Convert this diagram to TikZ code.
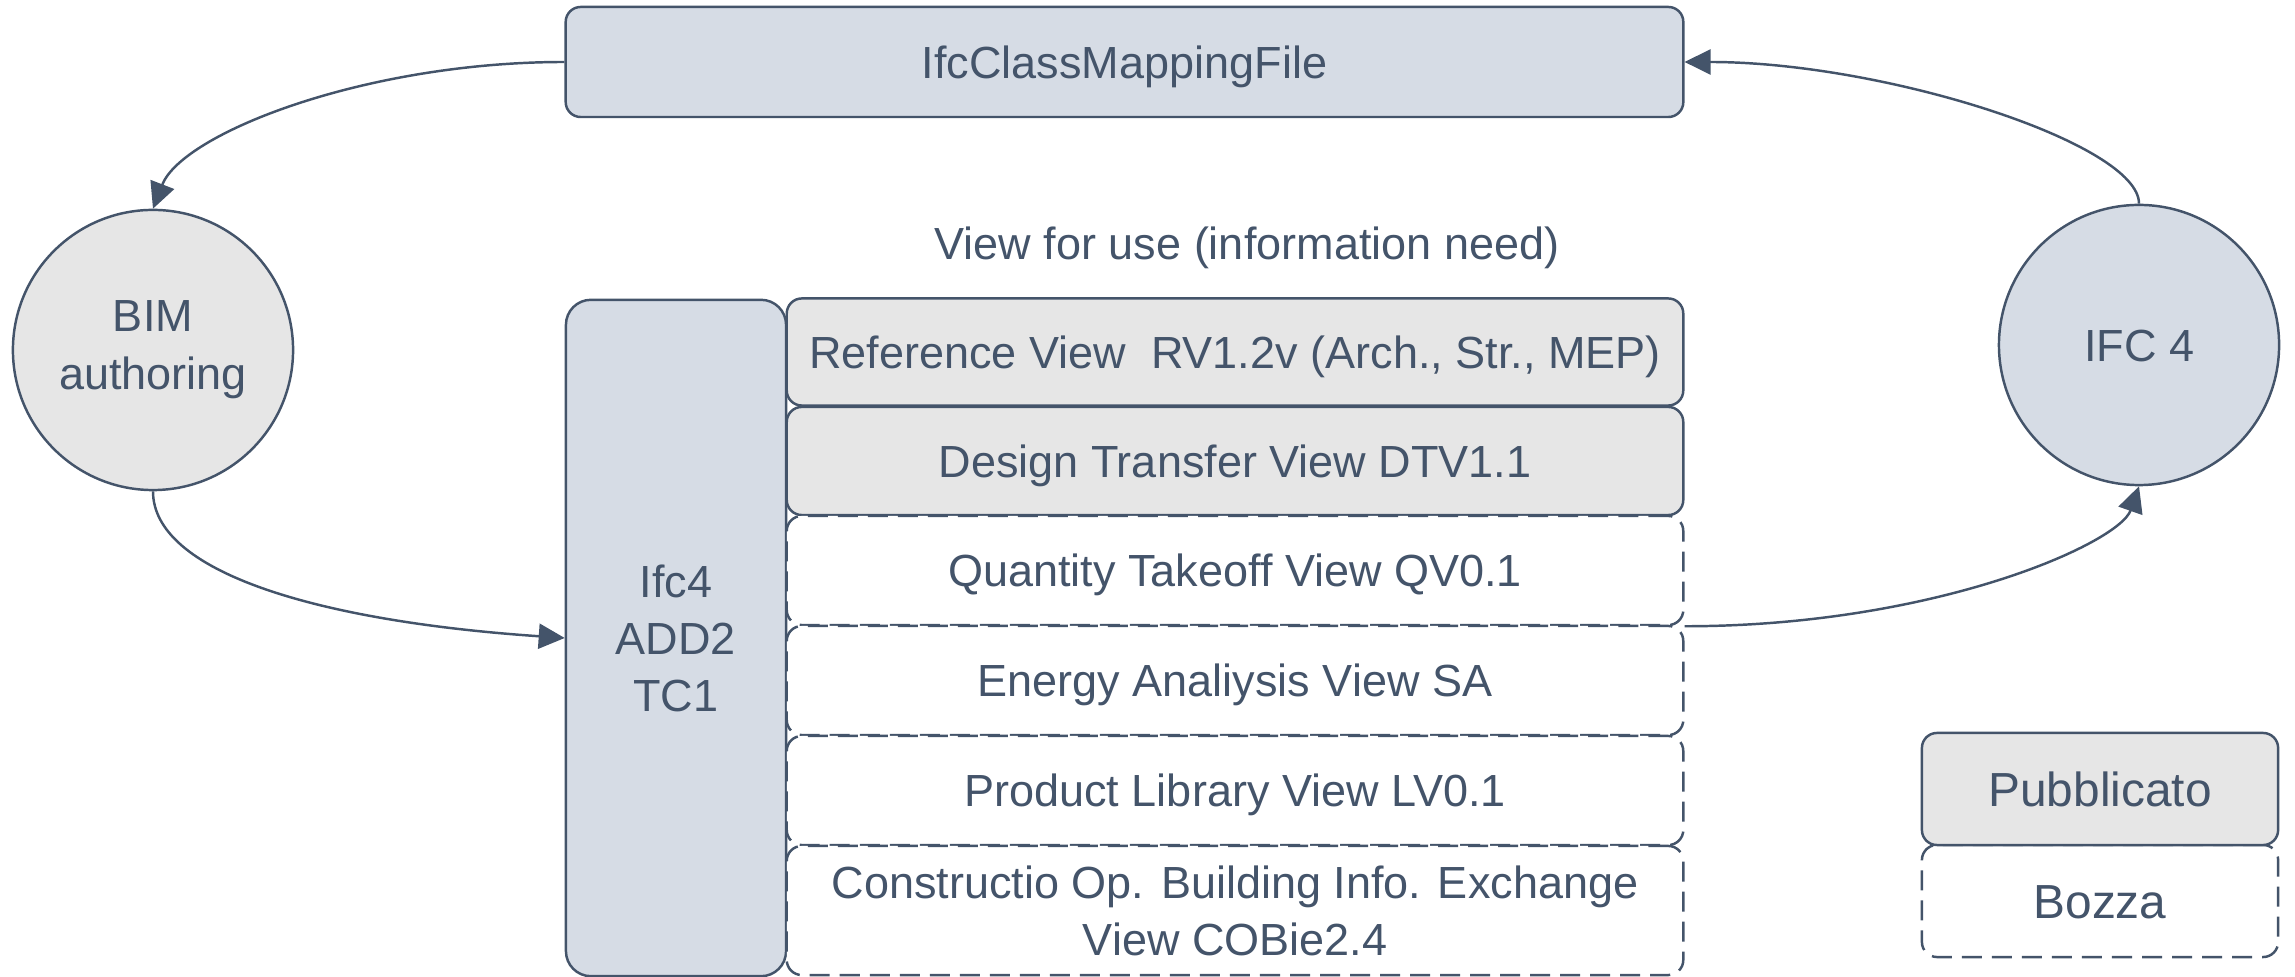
\documentclass[tikz,border=0pt]{standalone}
\usepackage{fontspec}
\setmainfont{Liberation Sans}
\usetikzlibrary{arrows.meta}
\definecolor{ink}{HTML}{44546A}
\definecolor{blu}{HTML}{D6DCE5}
\definecolor{gry}{HTML}{E6E6E6}
\begin{document}
\begin{tikzpicture}[x=0.01cm,y=-0.01cm,
  every node/.style={text=ink,font=\fontsize{12.8pt}{16.2pt}\selectfont,align=center,inner sep=0pt},
  oneline/.style={text height=9.2pt,text depth=0pt},
  legendtext/.style={font=\fontsize{13.6pt}{16pt}\selectfont,text height=9.7pt,text depth=0pt},
  box/.style={draw=ink,line width=0.7pt,rounded corners=0.15cm},
  solidrow/.style={box,fill=gry,minimum width=8.96cm},
  draftrow/.style={box,fill=white,dash pattern=on 0.2cm off 0.1cm,minimum width=8.96cm},
  circ/.style={draw=ink,line width=0.7pt,circle,minimum size=2.8cm},
  arr/.style={draw=ink,line width=0.7pt,-{Triangle[length=0.26cm,width=0.25cm]}}]
\useasboundingbox (0,0) rectangle (2295,977);
% top box
\node[box,oneline,fill=blu,minimum width=11.17cm,minimum height=1.10cm] (top) at (1124.5,62) {IfcClassMappingFile};
% circles
\node[circ,fill=gry,font=\fontsize{12.8pt}{16.6pt}\selectfont] (bim) at (153,350) {BIM\\authoring};
\node[circ,oneline,fill=blu] (ifcc) at (2139,345) {IFC 4};
% title
\node[oneline] (title) at (1247,243) {View for use (information need)};
% Ifc4 column
\node[box,fill=blu,rounded corners=0.25cm,minimum width=2.20cm,minimum height=6.76cm] (ifc) at (676,638) {Ifc4\\ADD2\\TC1};
% rows
\node[solidrow,oneline,minimum height=1.07cm] (r1) at (1235,352) {Reference View\ \ RV1.2v (Arch., Str., MEP)};
\node[solidrow,oneline,minimum height=1.08cm] (r2) at (1235,461) {Design Transfer View DTV1.1};
\node[draftrow,oneline,minimum height=1.09cm] (r3) at (1235,570.5) {Quantity Takeoff View QV0.1};
\node[draftrow,oneline,minimum height=1.09cm] (r4) at (1235,680.5) {Energy Analiysis View SA};
\node[draftrow,oneline,minimum height=1.09cm] (r5) at (1235,790.5) {Product Library View LV0.1};
\node[draftrow,minimum height=1.29cm] (r6) at (1235,910.5) {Constructio Op. Building Info. Exchange\\View COBie2.4};
% legend
\node[draftrow,legendtext,minimum width=3.56cm,minimum height=1.12cm] (bozza) at (2100,901) {Bozza};
\node[solidrow,legendtext,minimum width=3.56cm,minimum height=1.12cm] (pub) at (2100,789) {Pubblicato};
% connectors
\draw[arr] (top.west) .. controls +(-200,0) and +(29,-75) .. (bim.north);
\draw[arr] (bim.south) .. controls +(0,80) and +(-250,-17) .. (ifc.west);
\draw[arr] (r3.south east) .. controls +(250,0) and +(-20,57) .. (ifcc.south);
\draw[arr] (ifcc.north) .. controls +(0,-60) and +(200,0) .. (top.east);
\end{tikzpicture}
\end{document}
